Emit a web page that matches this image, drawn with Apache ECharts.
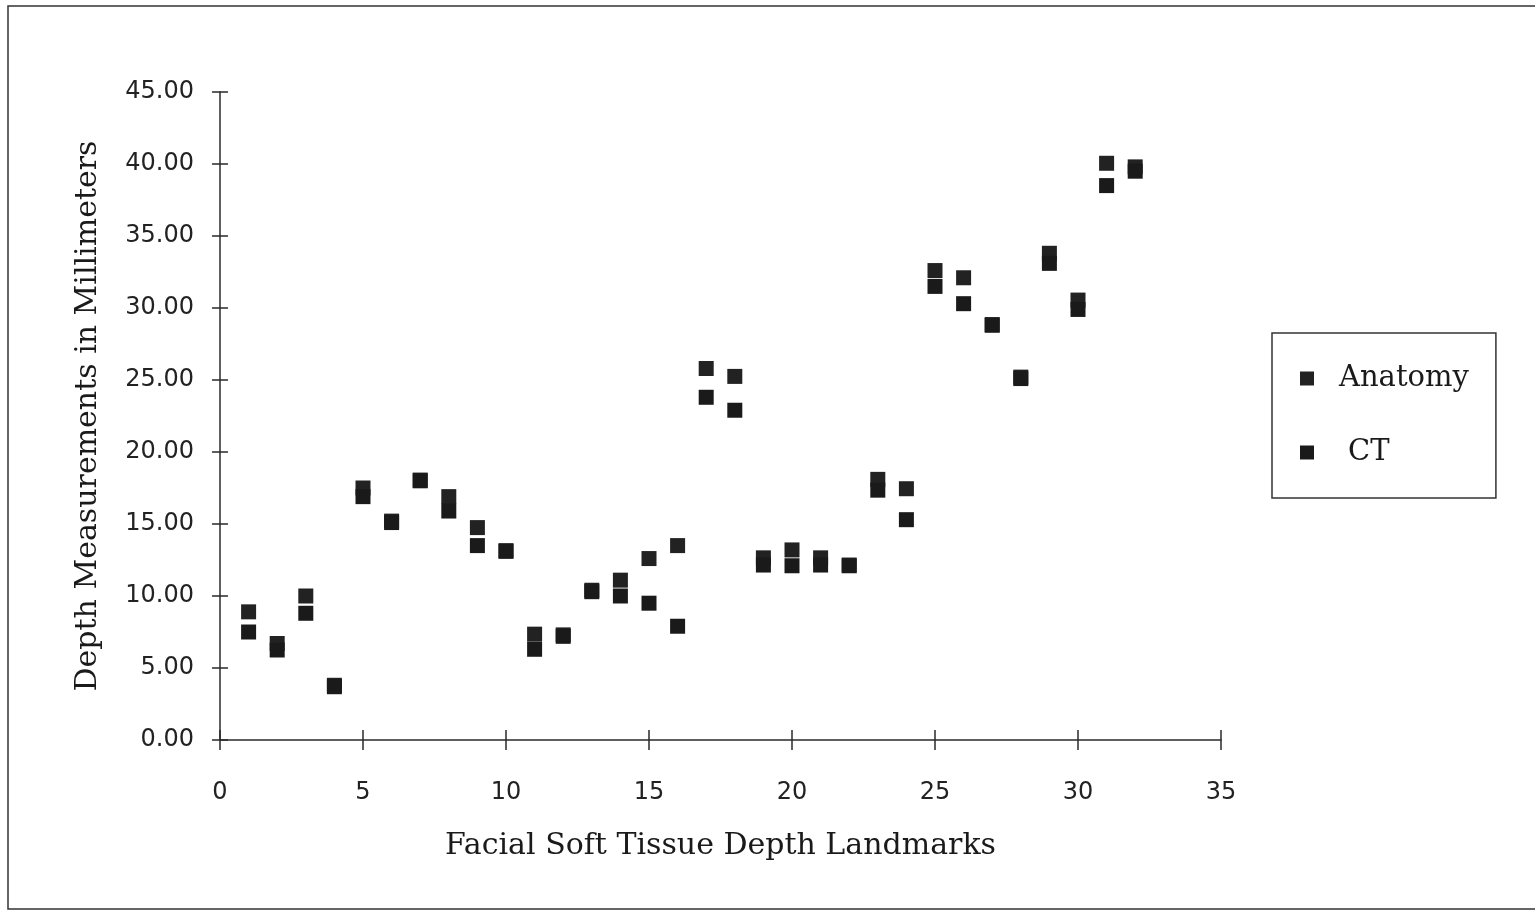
<!DOCTYPE html>
<html lang="en">
<head>
    <meta charset="UTF-8">
    <title>Facial Soft Tissue Depth</title>
    <script type="text/javascript" src="https://cdn.jsdelivr.net/npm/echarts@6/dist/echarts.min.js"></script>
    <style>
        html, body { margin: 0; padding: 0; background: #fff; }
    </style>
</head>
<body>

<!-- chart container -->
<div id="depthChart" style="width: 1535px;height:910px;"></div>

<script type="text/javascript">
    // landmark numbers 1..32
    var landmarks = [1, 2, 3, 4, 5, 6, 7, 8, 9, 10, 11, 12, 13, 14, 15, 16,
        17, 18, 19, 20, 21, 22, 23, 24, 25, 26, 27, 28, 29, 30, 31, 32];

    // depth values (mm)
    var anatomy = [8.9, 6.7, 10.0, 3.8, 17.5, 15.2, 18.05, 16.9, 14.75, 13.15, 7.35, 7.3, 10.4, 11.1, 12.6, 13.5,
        25.8, 25.25, 12.65, 13.2, 12.65, 12.15, 18.1, 17.45, 32.6, 32.1, 28.85, 25.2, 33.8, 30.55, 40.05, 39.8];
    var ct = [7.5, 6.25, 8.8, 3.7, 16.9, 15.1, 18.0, 15.9, 13.5, 13.1, 6.3, 7.2, 10.3, 10.0, 9.5, 7.9,
        23.8, 22.9, 12.15, 12.1, 12.15, 12.1, 17.35, 15.3, 31.5, 30.3, 28.8, 25.1, 33.1, 29.9, 38.5, 39.5];

    var xTicks = [0, 35, 5];   // min, max, interval
    var yTicks = [0, 45, 5];

    function pairs(xs, ys) {
        return xs.map(function (x, i) { return [x, ys[i]]; });
    }

    var myChart = echarts.init(document.getElementById('depthChart'));

    var axisColor = '#2a2a2a';
    var labelFont = { fontFamily: 'DejaVu Sans', fontSize: 24, color: '#222' };
    var titleFont = { fontFamily: 'DejaVu Serif', fontSize: 30, color: '#1a1a1a' };
    var tickStyle = { color: axisColor, width: 1.5 };

    myChart.setOption({
        animation: false,
        backgroundColor: '#fff',
        grid: { left: 220, right: 314, top: 92, bottom: 170 },
        graphic: [{
            type: 'rect',
            shape: { x: 8, y: 6, width: 1560, height: 903 },
            style: { fill: 'none', stroke: '#333', lineWidth: 1.5 },
            silent: true
        }],
        legend: {
            orient: 'vertical',
            left: 1272,
            top: 333,
            padding: [31, 27, 31, 28],
            itemGap: 45,
            itemWidth: 14,
            itemHeight: 14,
            borderColor: '#333',
            borderWidth: 1.5,
            itemStyle: { opacity: 1 },
            textStyle: { fontFamily: 'DejaVu Serif', fontSize: 29, color: '#1a1a1a', padding: [0, 0, 0, 20] },
            data: [
                { name: 'Anatomy', icon: 'rect' },
                { name: 'CT', icon: 'rect', textStyle: { padding: [0, 0, 0, 29] } }
            ]
        },
        xAxis: [{
            type: 'value',
            min: xTicks[0], max: xTicks[1], interval: xTicks[2],
            name: 'Facial Soft Tissue Depth Landmarks',
            nameLocation: 'middle',
            nameGap: 91,
            nameTextStyle: titleFont,
            axisLine: { show: true, onZero: false, lineStyle: tickStyle },
            axisTick: { show: false },
            axisLabel: Object.assign({ margin: 41 }, labelFont),
            splitLine: { show: false }
        }, {
            // same scale, shifted inward, carries the ticks that cross the axis line
            type: 'value',
            position: 'bottom',
            offset: -10,
            min: xTicks[0], max: xTicks[1], interval: xTicks[2],
            axisLine: { show: false, onZero: false },
            axisTick: { show: true, length: 20, lineStyle: tickStyle },
            axisLabel: { show: false },
            splitLine: { show: false }
        }],
        yAxis: [{
            type: 'value',
            min: yTicks[0], max: yTicks[1], interval: yTicks[2],
            name: 'Depth Measurements in Millimeters',
            nameLocation: 'middle',
            nameGap: 117,
            nameTextStyle: titleFont,
            axisLine: { show: true, onZero: false, lineStyle: tickStyle },
            axisTick: { show: false },
            axisLabel: Object.assign({
                margin: 26,
                formatter: function (v) { return v.toFixed(2); }
            }, labelFont),
            splitLine: { show: false }
        }, {
            type: 'value',
            position: 'left',
            offset: -8,
            min: yTicks[0], max: yTicks[1], interval: yTicks[2],
            axisLine: { show: false, onZero: false },
            axisTick: { show: true, length: 16, lineStyle: tickStyle },
            axisLabel: { show: false },
            splitLine: { show: false }
        }],
        series: [{
            name: 'Anatomy',
            type: 'scatter',
            xAxisIndex: 0,
            yAxisIndex: 0,
            symbol: 'rect',
            symbolSize: 15,
            itemStyle: { color: '#222', opacity: 1 },
            data: pairs(landmarks, anatomy)
        }, {
            name: 'CT',
            type: 'scatter',
            xAxisIndex: 1,
            yAxisIndex: 1,
            symbol: 'rect',
            symbolSize: 15,
            itemStyle: { color: '#1a1a1a', opacity: 1 },
            data: pairs(landmarks, ct)
        }]
    });
</script>

</body>
</html>
